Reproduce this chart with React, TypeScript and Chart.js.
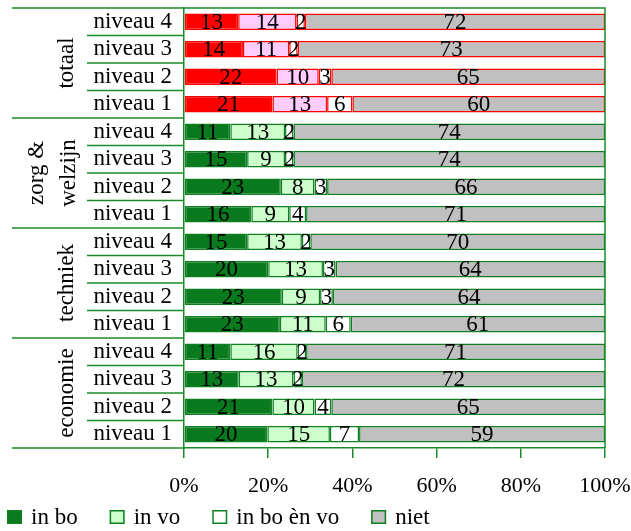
import React, { useEffect, useRef } from 'react';
import { Chart, registerables } from 'chart.js';

Chart.register(...registerables);

const categories = [
  'niveau 4', 'niveau 3', 'niveau 2', 'niveau 1',
  'niveau 4', 'niveau 3', 'niveau 2', 'niveau 1',
  'niveau 4', 'niveau 3', 'niveau 2', 'niveau 1',
  'niveau 4', 'niveau 3', 'niveau 2', 'niveau 1',
];
const groupLabels = [['totaal'], ['zorg &', 'welzijn'], ['techniek'], ['economie']];
const groupSizes = [4, 4, 4, 4];
const seriesNames = ['in bo', 'in vo', 'in bo èn vo', 'niet'];
const inBo = [13, 14, 22, 21, 11, 15, 23, 16, 15, 20, 23, 23, 11, 13, 21, 20];
const inVo = [14, 11, 10, 13, 13, 9, 8, 9, 13, 13, 9, 11, 16, 13, 10, 15];
const inBoEnVo = [2, 2, 3, 6, 2, 2, 3, 4, 2, 3, 3, 6, 2, 2, 4, 7];
const niet = [72, 73, 65, 60, 74, 74, 66, 71, 70, 64, 64, 61, 71, 72, 65, 59];
const xTicks = [0, 20, 40, 60, 80, 100];

const FONT = '"Liberation Serif", "Times New Roman", serif';
const LINE_GREEN = '#1A8A2A';
const redFill = ['#FF0000', '#FFCCFF', '#FFFFFF', '#C0C0C0'];
const greenFill = ['#0A7A1E', '#CCFFCC', '#FFFFFF', '#C0C0C0'];
const redBorder = '#FF0000';
const greenBorder = '#0F7F22';

export default function App() {
  const ref = useRef<HTMLCanvasElement>(null);

  useEffect(() => {
    if (!ref.current) return;
    const series = [inBo, inVo, inBoEnVo, niet];
    const rowSums = categories.map((_, i) => series.reduce((a, s) => a + s[i], 0));
    const groupOfRow: number[] = [];
    groupSizes.forEach((n, g) => { for (let k = 0; k < n; k++) groupOfRow.push(g); });

    const datasets = series.map((s, si) => ({
      label: seriesNames[si],
      data: s.map((v, i) => (v / rowSums[i]) * 100),
      raw: s,
      backgroundColor: s.map((_, i) => (groupOfRow[i] === 0 ? redFill[si] : greenFill[si])),
      borderColor: s.map((_, i) => (groupOfRow[i] === 0 ? redBorder : greenBorder)),
      borderWidth: 1.5,
      borderSkipped: false as const,
      barPercentage: 0.6,
      categoryPercentage: 1,
    }));

    const extras = {
      id: 'extras',
      afterDatasetsDraw(chart: any) {
        const ctx = chart.ctx;
        ctx.save();
        ctx.font = `23px ${FONT}`;
        ctx.fillStyle = '#000';
        ctx.textAlign = 'center';
        ctx.textBaseline = 'middle';
        chart.data.datasets.forEach((ds: any, di: number) => {
          const meta = chart.getDatasetMeta(di);
          meta.data.forEach((bar: any, i: number) => {
            const { x, base, y } = bar.getProps(['x', 'base', 'y'], true);
            ctx.fillText(String(ds.raw[i]), (x + base) / 2, y + 1);
          });
        });
        ctx.restore();
      },
      afterDraw(chart: any) {
        const ctx = chart.ctx;
        const area = chart.chartArea;
        const ys = chart.scales.y;
        ctx.save();
        ctx.strokeStyle = LINE_GREEN;
        ctx.lineWidth = 1.5;
        const n = categories.length;
        const step = (ys.getPixelForValue(1) - ys.getPixelForValue(0));
        let acc = 0;
        const groupStarts = new Set<number>();
        groupSizes.forEach((sz) => { groupStarts.add(acc); acc += sz; });
        groupStarts.add(n);
        for (let i = 0; i <= n; i++) {
          const y = ys.getPixelForValue(0) + (i - 0.5) * step;
          const x0 = groupStarts.has(i) ? 12 : 87;
          ctx.beginPath();
          ctx.moveTo(x0, y);
          ctx.lineTo(area.left, y);
          ctx.stroke();
        }
        ctx.beginPath();
        ctx.moveTo(area.left, area.top);
        ctx.lineTo(area.right, area.top);
        ctx.lineTo(area.right, area.bottom);
        ctx.stroke();

        ctx.fillStyle = '#000';
        ctx.font = `23px ${FONT}`;
        ctx.textAlign = 'center';
        ctx.textBaseline = 'alphabetic';
        acc = 0;
        groupSizes.forEach((sz, g) => {
          const yc = (ys.getPixelForValue(acc) + ys.getPixelForValue(acc + sz - 1)) / 2;
          acc += sz;
          const lines = groupLabels[g];
          const lh = 32;
          lines.forEach((t, li) => {
            const xb = 73 - (lines.length - 1 - li) * lh + (lines.length > 1 ? 2 : 0);
            ctx.save();
            ctx.translate(xb, yc);
            ctx.rotate(-Math.PI / 2);
            ctx.fillText(t, 0, 0);
            ctx.restore();
          });
        });

        ctx.font = `23px ${FONT}`;
        ctx.textAlign = 'left';
        ctx.textBaseline = 'middle';
        let lx = 7;
        const ly = 517;
        seriesNames.forEach((name, si) => {
          ctx.fillStyle = greenFill[si];
          ctx.fillRect(lx, ly - 7, 15, 14);
          ctx.strokeStyle = greenBorder;
          ctx.lineWidth = 1.5;
          ctx.strokeRect(lx + 0.75, ly - 6.25, 13.5, 12.5);
          ctx.fillStyle = '#000';
          const tx = lx + 24;
          ctx.fillText(name, tx, ly + 1);
          lx = tx + ctx.measureText(name).width + 32;
        });
        ctx.restore();
      },
    };

    const chart = new Chart(ref.current, {
      type: 'bar',
      data: { labels: categories, datasets: datasets as any },
      options: {
        indexAxis: 'y',
        responsive: false,
        maintainAspectRatio: false,
        animation: false,
        devicePixelRatio: 1,
        layout: { padding: { top: 8, right: 26, left: 0, bottom: 0 } },
        plugins: { legend: { display: false }, tooltip: { enabled: false } },
        scales: {
          x: {
            type: 'linear',
            stacked: true,
            min: 0,
            max: 100,
            afterBuildTicks: (s: any) => { s.ticks = xTicks.map((v) => ({ value: v })); },
            afterFit: (s: any) => {
              s.height = 83;
              s.paddingLeft = 0; s.paddingRight = 0; s.paddingTop = 0; s.paddingBottom = 0;
            },
            ticks: {
              callback: (v: any) => `${v}%`,
              font: { family: FONT, size: 22 },
              color: '#000',
              padding: 15,
              maxRotation: 0,
              autoSkip: false,
            },
            grid: { display: true, drawOnChartArea: false, drawTicks: true, tickLength: 10, color: LINE_GREEN, lineWidth: 1.5 },
            border: { display: true, color: LINE_GREEN, width: 1.5 },
          },
          y: {
            type: 'category',
            stacked: true,
            afterFit: (s: any) => {
              s.width = 184;
              s.paddingLeft = 0; s.paddingRight = 0; s.paddingTop = 0; s.paddingBottom = 0;
            },
            ticks: { font: { family: FONT, size: 23 }, color: '#000', padding: 12, autoSkip: false },
            grid: { display: false, drawTicks: false, tickLength: 0 },
            border: { display: true, color: LINE_GREEN, width: 1.5 },
          },
        },
      },
      plugins: [extras],
    });
    return () => chart.destroy();
  }, []);

  return (
    <div style={{ position: 'fixed', left: 0, top: 0, width: 631, height: 531, background: '#fff' }}>
      <canvas ref={ref} width={631} height={531} style={{ display: 'block' }} />
    </div>
  );
}
